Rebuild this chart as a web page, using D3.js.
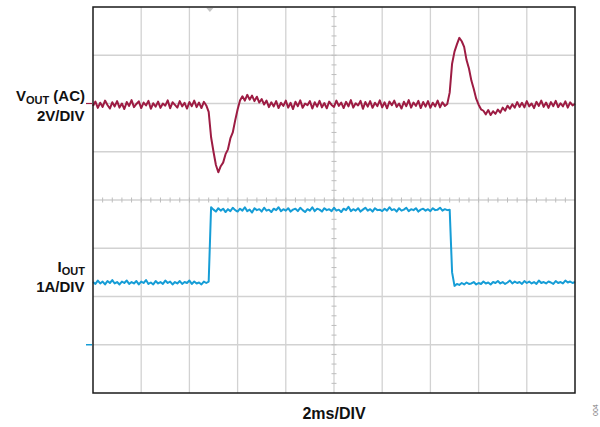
<!DOCTYPE html>
<html>
<head>
<meta charset="utf-8">
<script src="https://cdn.jsdelivr.net/npm/d3@7"></script>
<style>
  html, body { margin: 0; padding: 0; background: #fff; }
  svg { display: block; }
  text { font-family: "Liberation Sans", Arial, Helvetica, sans-serif; }
</style>
</head>
<body>
<svg id="chart" width="600" height="427"></svg>
<script>
// ---- Data ----
// Time base: 2 ms/div, 10 divisions; samples every 0.1 ms from 0 to 20 ms
const sampleStepMs = 0.1;
const timeDivisions = [0, 2, 4, 6, 8, 10, 12, 14, 16, 18, 20];
const verticalDivisions = [-4, -3, -2, -1, 0, 1, 2, 3, 4];

// VOUT (AC coupled), volts, 2 V/div, channel reference at +2 div
const voutRefDiv = 2;
const voutVoltsPerDiv = 2;
const voutValues = [
  -0.1, 0.08, -0.18, 0.03, -0.14, 0.12, -0.06, -0.21, 0.05, -0.12,
  0.1, -0.17, 0.0, -0.23, 0.06, -0.1, 0.14, -0.15, -0.02, 0.09,
  -0.19, 0.04, -0.08, 0.11, -0.22, 0.01, -0.13, 0.08, -0.18, 0.0,
  -0.09, 0.13, -0.2, 0.05, -0.06, -0.17, 0.1, -0.12, 0.03, -0.21,
  0.06, -0.11, 0.12, -0.15, 0.04, -0.19, 0.07, -0.08,
  -0.35, -1.4, -2.0, -2.55, -2.85, -2.6, -2.45, -2.1, -1.9, -1.45, -1.2, -0.7,
  -0.25, 0.12, 0.3, 0.12, 0.36, 0.16, 0.33, 0.1, 0.28, 0.04,
  0.18, -0.04, 0.12, -0.15, 0.05, -0.12, 0.1, -0.19, 0.03, -0.1,
  0.12, -0.17, 0.03, -0.23, 0.07, -0.11, 0.13, -0.18, 0.0, -0.07,
  0.1, -0.21, 0.05, -0.13, 0.11, -0.16, 0.02, -0.2, 0.08, -0.06,
  -0.14, 0.12, -0.1, 0.04, -0.19, 0.07, -0.12, 0.14, -0.17, 0.01,
  -0.08, 0.11, -0.22, 0.06, -0.13, 0.1, -0.18, 0.03, -0.11, 0.13,
  -0.16, 0.05, -0.2, 0.08, -0.07, 0.12, -0.14, 0.0, -0.21, 0.07,
  -0.11, 0.14, -0.17, 0.04, -0.1, 0.11, -0.19, 0.06, -0.13, 0.1,
  -0.18, 0.03, -0.12, 0.12, -0.16, 0.05, -0.1, -0.02,
  0.45, 1.65, 2.15, 2.45, 2.72, 2.58, 2.35, 1.8, 1.45, 0.95, 0.6, 0.2,
  -0.05, -0.24, -0.3, -0.45, -0.27, -0.48, -0.32, -0.43, -0.25, -0.38,
  -0.17, -0.3, -0.09, -0.22, -0.03, -0.17, 0.06, -0.14, 0.03, -0.16,
  0.1, -0.12, 0.0, -0.19, 0.07, -0.1, 0.12, -0.14, 0.04, -0.18,
  0.06, -0.11, 0.11, -0.15, 0.01, -0.12, 0.09, -0.17, 0.05, -0.08, -0.02
];

// IOUT, amps, 1 A/div, channel reference at -3 div
const ioutRefDiv = -3;
const ioutAmpsPerDiv = 1;
const ioutValues = [
  1.3, 1.26, 1.33, 1.27, 1.31, 1.25, 1.32, 1.28, 1.34, 1.27,
  1.3, 1.25, 1.31, 1.28, 1.33, 1.26, 1.3, 1.27, 1.32, 1.25,
  1.31, 1.28, 1.34, 1.26, 1.29, 1.25, 1.32, 1.27, 1.3, 1.26,
  1.33, 1.28, 1.31, 1.25, 1.3, 1.27, 1.32, 1.26, 1.3, 1.28,
  1.33, 1.26, 1.31, 1.27, 1.29, 1.25, 1.31, 1.28, 1.31,
  2.85, 2.8, 2.76, 2.83, 2.78, 2.82, 2.75, 2.81, 2.77, 2.84, 2.79,
  2.76, 2.82, 2.78, 2.85, 2.77, 2.8, 2.74, 2.83, 2.79, 2.81,
  2.76, 2.84, 2.78, 2.8, 2.75, 2.82, 2.79, 2.85, 2.77, 2.81,
  2.78, 2.83, 2.76, 2.8, 2.82, 2.77, 2.84, 2.79, 2.75, 2.81,
  2.78, 2.85, 2.77, 2.82, 2.8, 2.76, 2.83, 2.79, 2.81, 2.77,
  2.84, 2.78, 2.8, 2.75, 2.82, 2.79, 2.86, 2.77, 2.81, 2.78,
  2.83, 2.76, 2.8, 2.84, 2.78, 2.81, 2.76, 2.83, 2.79, 2.8,
  2.77, 2.82, 2.78, 2.85, 2.79, 2.81, 2.76, 2.83, 2.78, 2.8,
  2.84, 2.77, 2.81, 2.79, 2.83, 2.76, 2.8, 2.82, 2.78, 2.81,
  2.77, 2.83, 2.79, 2.8, 2.84, 2.78, 2.81, 2.79, 2.8,
  1.5, 1.22, 1.26,
  1.24, 1.28, 1.25, 1.29, 1.26, 1.27, 1.3, 1.25,
  1.28, 1.26, 1.31, 1.27, 1.29, 1.25, 1.3, 1.28, 1.32, 1.27,
  1.3, 1.26, 1.29, 1.33, 1.27, 1.31, 1.28, 1.3, 1.26, 1.32,
  1.28, 1.31, 1.27, 1.3, 1.26, 1.33, 1.28, 1.3, 1.27, 1.31,
  1.29, 1.26, 1.32, 1.28, 1.3, 1.27, 1.33, 1.29, 1.31, 1.28, 1.3
];

const triggerTimeMs = 4.85;
const xLabel = "2ms/DIV";
const figureId = "004";

// ---- Layout ----
const plot = { left: 93, right: 575, top: 7, bottom: 393 };
const colors = { vout: "#9d1c43", iout: "#169dd6", grid: "#d2d2d2", frame: "#1a1a1a", tick: "#bdbdbd" };

const svg = d3.select("#chart");

const x = d3.scaleLinear().domain([0, 20]).range([plot.left, plot.right]);
const div = d3.scaleLinear().domain([-4, 4]).range([plot.bottom, plot.top]);
const yV = d3.scaleLinear()
  .domain([(-4 - voutRefDiv) * voutVoltsPerDiv, (4 - voutRefDiv) * voutVoltsPerDiv])
  .range([plot.bottom, plot.top]);
const yI = d3.scaleLinear()
  .domain([(-4 - ioutRefDiv) * ioutAmpsPerDiv, (4 - ioutRefDiv) * ioutAmpsPerDiv])
  .range([plot.bottom, plot.top]);

// Grid
const grid = svg.append("g");
grid.selectAll("line.gx").data(timeDivisions.slice(1, -1)).join("line")
  .attr("x1", d => x(d)).attr("x2", d => x(d))
  .attr("y1", plot.top).attr("y2", plot.bottom)
  .attr("stroke", colors.grid).attr("stroke-width", 1.3);
grid.selectAll("line.gy").data(verticalDivisions.slice(1, -1)).join("line")
  .attr("y1", d => div(d)).attr("y2", d => div(d))
  .attr("x1", plot.left).attr("x2", plot.right)
  .attr("stroke", colors.grid).attr("stroke-width", 1.3);

// Minor ticks on centre axes (5 per division)
const minorX = d3.range(0, 50.5, 1).map(k => k * 0.4).filter(t => t > 0 && t < 20);
const minorY = d3.range(0, 40.5, 1).map(k => -4 + k * 0.2).filter(d => d > -4 && d < 4);
grid.selectAll("line.mx").data(minorX).join("line")
  .attr("x1", d => x(d)).attr("x2", d => x(d))
  .attr("y1", div(0) - 2.5).attr("y2", div(0) + 2.5)
  .attr("stroke", colors.tick).attr("stroke-width", 1);
grid.selectAll("line.my").data(minorY).join("line")
  .attr("y1", d => div(d)).attr("y2", d => div(d))
  .attr("x1", x(10) - 2.5).attr("x2", x(10) + 2.5)
  .attr("stroke", colors.tick).attr("stroke-width", 1);

// Trigger marker
const tx = x(triggerTimeMs);
svg.append("path")
  .attr("d", `M${tx - 3.5},${plot.top + 1} L${tx + 3.5},${plot.top + 1} L${tx},${plot.top + 5} Z`)
  .attr("fill", "#c4c4c4");

// Traces
const line = (scale) => d3.line().x((d, i) => x(i * sampleStepMs)).y(d => scale(d));
svg.append("path").datum(ioutValues)
  .attr("d", line(yI)).attr("fill", "none")
  .attr("stroke", colors.iout).attr("stroke-width", 2).attr("stroke-linejoin", "round");
svg.append("path").datum(voutValues)
  .attr("d", line(yV)).attr("fill", "none")
  .attr("stroke", colors.vout).attr("stroke-width", 2).attr("stroke-linejoin", "round");

// Frame
svg.append("rect")
  .attr("x", plot.left).attr("y", plot.top)
  .attr("width", plot.right - plot.left).attr("height", plot.bottom - plot.top)
  .attr("fill", "none").attr("stroke", colors.frame).attr("stroke-width", 1.5);

// Channel reference markers
svg.append("line").attr("x1", plot.left - 7).attr("x2", plot.left - 1)
  .attr("y1", yV(0)).attr("y2", yV(0)).attr("stroke", colors.vout).attr("stroke-width", 1.2);
svg.append("line").attr("x1", plot.left - 7).attr("x2", plot.left - 1)
  .attr("y1", yI(0)).attr("y2", yI(0)).attr("stroke", colors.iout).attr("stroke-width", 1.5);

// Channel labels
function chLabel(yBase, main, sub, rest, second) {
  const t = svg.append("text").attr("x", 85).attr("y", yBase)
    .attr("text-anchor", "end").attr("font-weight", "bold").attr("font-size", 15).attr("fill", "#111");
  t.append("tspan").text(main);
  t.append("tspan").attr("font-size", 11).attr("dy", 3.5).text(sub);
  if (rest) t.append("tspan").attr("dy", -3.5).text(rest);
  svg.append("text").attr("x", 84.5).attr("y", yBase + 20.3)
    .attr("text-anchor", "end").attr("font-weight", "bold").attr("font-size", 15).attr("fill", "#111")
    .text(second);
}
chLabel(100.5, "V", "OUT", "\u00a0(AC)", "2V/DIV");
chLabel(271.5, "I", "OUT", null, "1A/DIV");

// X label
svg.append("text").attr("x", x(10)).attr("y", 419)
  .attr("text-anchor", "middle").attr("font-weight", "bold").attr("font-size", 16).attr("fill", "#111")
  .text(xLabel);

// Figure id
svg.append("text").attr("transform", "translate(597.5,416) rotate(-90)")
  .attr("font-size", 7).attr("fill", "#777").text(figureId);
</script>
</body>
</html>
